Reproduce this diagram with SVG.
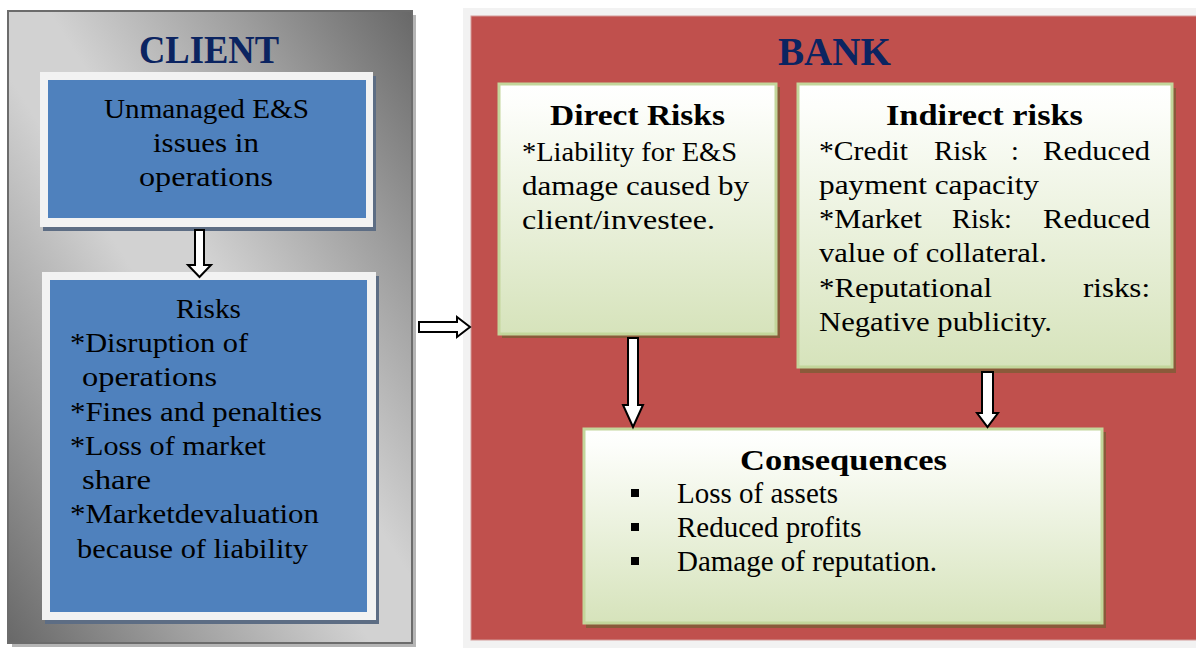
<svg xmlns="http://www.w3.org/2000/svg" width="1196" height="648" viewBox="0 0 1196 648">
  <defs>
    <linearGradient id="panelGray" x1="0" y1="1" x2="1" y2="0">
      <stop offset="0" stop-color="#686868"/>
      <stop offset="0.22" stop-color="#9e9e9e"/>
      <stop offset="0.45" stop-color="#d2d2d2"/>
      <stop offset="0.55" stop-color="#d2d2d2"/>
      <stop offset="0.78" stop-color="#9e9e9e"/>
      <stop offset="1" stop-color="#686868"/>
    </linearGradient>
    <linearGradient id="greenFill" x1="0" y1="0" x2="0" y2="1">
      <stop offset="0" stop-color="#ffffff"/>
      <stop offset="0.08" stop-color="#fdfefb"/>
      <stop offset="1" stop-color="#d6e3bb"/>
    </linearGradient>
    <style>
      .title { font-family: "Liberation Serif", serif; font-weight: bold; font-size: 41px; fill: #0b2461; }
      .body { font-family: "Liberation Serif", serif; font-size: 28px; fill: #000; }
      .head { font-family: "Liberation Serif", serif; font-weight: bold; font-size: 29px; fill: #000; }
      .item { font-family: "Liberation Serif", serif; font-size: 29px; fill: #000; }
      .frame { fill: #f2f2f2; }
      .blue { fill: #4f81bd; }
      .blueShadow { fill: #5d6d84; }
      .card { fill: url(#greenFill); stroke: #c3d69b; stroke-width: 3; }
      .cardShadow { fill: #8a5a3a; }
      .arrow { fill: #ffffff; stroke: #000; stroke-width: 2; stroke-linejoin: miter; }
    </style>
  </defs>

  <rect width="1196" height="648" fill="#ffffff"/>

  <!-- Client panel -->
  <g id="client">
    <rect x="12" y="15" width="404" height="632" fill="#b5b5b5"/>
    <rect x="8" y="11" width="404" height="632" fill="url(#panelGray)" stroke="#6c6c6c" stroke-width="2"/>
    <text class="title" x="139" y="63" textLength="140" lengthAdjust="spacingAndGlyphs">CLIENT</text>
  </g>

  <g id="client-issues">
    <rect class="blueShadow" x="43" y="76" width="333" height="155"/>
    <rect class="frame" x="40" y="72" width="333" height="155"/>
    <rect class="blue" x="48" y="80" width="318" height="138"/>
    <text class="body" x="104" y="118" textLength="205" lengthAdjust="spacingAndGlyphs">Unmanaged E&amp;S</text>
    <text class="body" x="153" y="152" textLength="106" lengthAdjust="spacingAndGlyphs">issues in</text>
    <text class="body" x="139" y="186" textLength="134" lengthAdjust="spacingAndGlyphs">operations</text>
  </g>

  <g id="client-risks">
    <rect class="blueShadow" x="45" y="276" width="334" height="348"/>
    <rect class="frame" x="42" y="272" width="334" height="348"/>
    <rect class="blue" x="50" y="280" width="317" height="332"/>
    <text class="body" x="176" y="318" textLength="65" lengthAdjust="spacingAndGlyphs">Risks</text>
    <text class="body" x="70" y="352" textLength="178" lengthAdjust="spacingAndGlyphs">*Disruption of</text>
    <text class="body" x="82" y="386" textLength="135" lengthAdjust="spacingAndGlyphs">operations</text>
    <text class="body" x="70" y="421" textLength="252" lengthAdjust="spacingAndGlyphs">*Fines and penalties</text>
    <text class="body" x="70" y="455" textLength="196" lengthAdjust="spacingAndGlyphs">*Loss of market</text>
    <text class="body" x="82" y="489" textLength="69" lengthAdjust="spacingAndGlyphs">share</text>
    <text class="body" x="70" y="523" textLength="249" lengthAdjust="spacingAndGlyphs">*Marketdevaluation</text>
    <text class="body" x="77" y="558" textLength="231" lengthAdjust="spacingAndGlyphs">because of liability</text>
  </g>

  <!-- Bank panel -->
  <g id="bank">
    <rect x="463" y="8" width="740" height="640" fill="#f2f2f2"/>
    <rect x="471" y="16" width="730" height="624" fill="#c0504d" stroke="#d39a98" stroke-width="1"/>
    <text class="title" x="778" y="65" textLength="113" lengthAdjust="spacingAndGlyphs">BANK</text>
  </g>

  <g id="direct-risks">
    <rect class="cardShadow" x="502" y="87" width="278" height="251"/>
    <rect class="card" x="499" y="84" width="277" height="250"/>
    <text class="head" x="550" y="125" textLength="175" lengthAdjust="spacingAndGlyphs">Direct Risks</text>
    <text class="body" x="522" y="161" textLength="215" lengthAdjust="spacingAndGlyphs">*Liability for E&amp;S</text>
    <text class="body" x="522" y="195" textLength="227" lengthAdjust="spacingAndGlyphs">damage caused by</text>
    <text class="body" x="522" y="229" textLength="193" lengthAdjust="spacingAndGlyphs">client/investee.</text>
  </g>

  <g id="indirect-risks">
    <rect class="cardShadow" x="800" y="88" width="376" height="285"/>
    <rect class="card" x="798" y="84" width="374" height="283"/>
    <text class="head" x="886" y="125" textLength="197" lengthAdjust="spacingAndGlyphs">Indirect risks</text>
    <text class="body" x="819" y="160" textLength="89" lengthAdjust="spacingAndGlyphs">*Credit</text>
    <text class="body" x="934" y="160" textLength="53" lengthAdjust="spacingAndGlyphs">Risk</text>
    <text class="body" x="1011" y="160">:</text>
    <text class="body" x="1043" y="160" textLength="107" lengthAdjust="spacingAndGlyphs">Reduced</text>
    <text class="body" x="819" y="194" textLength="220" lengthAdjust="spacingAndGlyphs">payment capacity</text>
    <text class="body" x="819" y="228" textLength="103" lengthAdjust="spacingAndGlyphs">*Market</text>
    <text class="body" x="952" y="228" textLength="60" lengthAdjust="spacingAndGlyphs">Risk:</text>
    <text class="body" x="1043" y="228" textLength="107" lengthAdjust="spacingAndGlyphs">Reduced</text>
    <text class="body" x="819" y="262" textLength="228" lengthAdjust="spacingAndGlyphs">value of collateral.</text>
    <text class="body" x="819" y="297" textLength="173" lengthAdjust="spacingAndGlyphs">*Reputational</text>
    <text class="body" x="1083" y="297" textLength="67" lengthAdjust="spacingAndGlyphs">risks:</text>
    <text class="body" x="819" y="331" textLength="233" lengthAdjust="spacingAndGlyphs">Negative publicity.</text>
  </g>

  <g id="consequences">
    <rect class="cardShadow" x="586" y="432" width="520" height="196"/>
    <rect class="card" x="584" y="429" width="518" height="194"/>
    <text class="head" x="740" y="470" textLength="207" lengthAdjust="spacingAndGlyphs">Consequences</text>
    <rect x="631" y="489" width="8" height="8" fill="#000"/>
    <rect x="631" y="523" width="8" height="8" fill="#000"/>
    <rect x="631" y="557" width="8" height="8" fill="#000"/>
    <text class="item" x="677" y="503">Loss of assets</text>
    <text class="item" x="677" y="537">Reduced profits</text>
    <text class="item" x="677" y="571">Damage of reputation.</text>
  </g>

  <!-- Block arrows -->
  <g id="connectors">
    <path class="arrow" d="M195,230 H204 V265 H211 L199.5,277 L188,265 H195 Z"/>
    <path class="arrow" d="M419,322 H457 V317 L470,327 L457,337 V332 H419 Z"/>
    <path class="arrow" d="M628,338 H638 V405 H643 L633,427 L623,405 H628 Z"/>
    <path class="arrow" d="M982,372 H993 V413 H998 L987.5,427 L977,413 H982 Z"/>
  </g>
</svg>
